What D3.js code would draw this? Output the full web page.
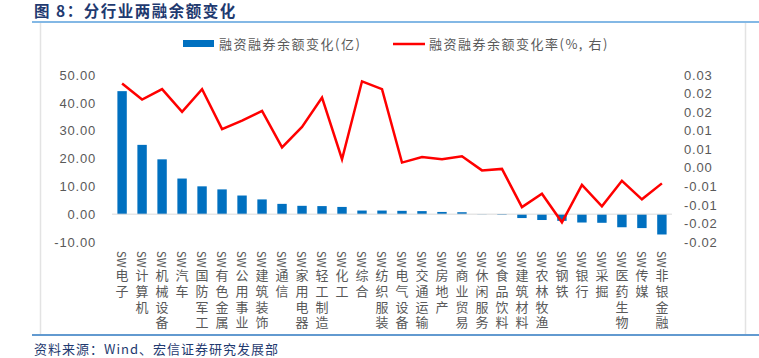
<!DOCTYPE html>
<html><head><meta charset="utf-8">
<script src="https://cdn.jsdelivr.net/npm/d3@7"></script>
<style>
body{margin:0;background:#fff;}
svg{display:block;font-family:"Noto Sans CJK SC","Noto Sans",sans-serif;}
</style></head>
<body><svg id="c" width="759" height="358"></svg>
<script>
const categories = ["SW电子","SW计算机","SW机械设备","SW汽车","SW国防军工","SW有色金属","SW公用事业","SW建筑装饰","SW通信","SW家用电器","SW轻工制造","SW化工","SW综合","SW纺织服装","SW电气设备","SW交通运输","SW房地产","SW商业贸易","SW休闲服务","SW食品饮料","SW建筑材料","SW农林牧渔","SW钢铁","SW银行","SW采掘","SW医药生物","SW传媒","SW非银金融"];
const balanceChange = [44.2,24.9,19.7,12.8,10.0,8.9,6.7,5.3,3.7,3.0,2.9,2.6,1.3,1.3,1.2,1.1,0.8,0.7,-0.1,-0.3,-1.4,-2.1,-2.4,-3.0,-3.1,-4.7,-5.0,-7.3];
const changeRate = [0.0227,0.0184,0.0212,0.0151,0.0212,0.0104,0.0127,0.0153,0.0055,0.0110,0.0189,0.0023,0.0233,0.0212,0.0014,0.0029,0.0023,0.0031,-0.0007,-0.0003,-0.0106,-0.0070,-0.0147,-0.0046,-0.0104,-0.0035,-0.0085,-0.0042];
const leftTicks = [50,40,30,20,10,0,-10];
const leftTickLabels = ["50.00","40.00","30.00","20.00","10.00","0.00","-10.00"];
const rightTicks = [0.025,0.02,0.015,0.01,0.005,0,-0.005,-0.01,-0.015,-0.02];
const rightTickLabels = ["0.03","0.02","0.02","0.01","0.01","0.00","-0.01","-0.01","-0.02","-0.02"];
const title = "图 8：分行业两融余额变化";
const source = "资料来源：Wind、宏信证券研究发展部";
const legendBar = "融资融券余额变化(亿)";
const legendLine = "融资融券余额变化率(%, 右)";

const svg = d3.select("#c");
const navy = "#1f3a70", grey = "#595959";

// title & frame
svg.append("text").attr("x",34).attr("y",17).attr("font-size",15.5).attr("font-weight","bold")
  .attr("fill",navy).attr("letter-spacing",1.5).text(title);
svg.append("line").attr("x1",32).attr("x2",759).attr("y1",22).attr("y2",22).attr("stroke","#5aa0dc").attr("stroke-width",1.5);
svg.append("line").attr("x1",32).attr("x2",759).attr("y1",335).attr("y2",335).attr("stroke","#2e78c0").attr("stroke-width",1.5);
svg.append("line").attr("x1",40.5).attr("x2",40.5).attr("y1",23).attr("y2",334).attr("stroke","#e3e3e3").attr("stroke-width",1.5);
svg.append("line").attr("x1",745.5).attr("x2",745.5).attr("y1",23).attr("y2",334).attr("stroke","#e3e3e3").attr("stroke-width",1.5);
svg.append("text").attr("x",34).attr("y",354).attr("font-size",13).attr("fill",navy).attr("letter-spacing",1).text(source);

// scales
const x = d3.scaleBand().domain(categories).range([112,672]).paddingInner(0.53).paddingOuter(0.27);
const yL = d3.scaleLinear().domain([-10,50]).range([242,75]);
const yR = d3.scaleLinear().domain([-0.02,0.025]).range([242,75]);

// axes
const axL = svg.append("g").attr("transform","translate(96,0)")
  .call(d3.axisLeft(yL).tickValues(leftTicks).tickSize(0).tickPadding(0).tickFormat((d,i)=>leftTickLabels[i]));
const axR = svg.append("g").attr("transform","translate(684,0)")
  .call(d3.axisRight(yR).tickValues(rightTicks).tickSize(0).tickPadding(0).tickFormat((d,i)=>rightTickLabels[i]));
[axL,axR].forEach(a=>{a.select(".domain").remove();
  a.selectAll("text").attr("font-size",13).attr("fill",grey).attr("letter-spacing",0.8)
   .attr("font-family","'Liberation Sans',Arial,sans-serif");});

// bars
svg.append("g").selectAll("rect").data(balanceChange).join("rect")
  .attr("x",(d,i)=>x(categories[i])).attr("width",x.bandwidth())
  .attr("y",d=>yL(Math.max(0,d))).attr("height",d=>Math.abs(yL(d)-yL(0)))
  .attr("fill","#0070c0");

// zero line
svg.append("line").attr("x1",112).attr("x2",672).attr("y1",yL(0)).attr("y2",yL(0))
  .attr("stroke","#d9d9d9").attr("stroke-width",1);

// line
const line = d3.line().x((d,i)=>x(categories[i])+x.bandwidth()/2).y(d=>yR(d));
svg.append("path").datum(changeRate).attr("d",line).attr("fill","none")
  .attr("stroke","#ff0000").attr("stroke-width",2.5).attr("stroke-linejoin","miter");

// x labels (vertical): "SW" prefix sideways, CJK upright
const xl = svg.append("g").selectAll("text").data(categories).join("text")
  .attr("x",d=>x(d)+x.bandwidth()/2).attr("y",251)
  .attr("fill",grey)
  .style("writing-mode","vertical-rl").style("text-orientation","mixed");
xl.append("tspan").attr("font-size",11.5).attr("letter-spacing",0).text(d=>d.slice(0,2));
xl.append("tspan").attr("font-size",13).attr("letter-spacing",2.6).attr("dy",1).text(d=>d.slice(2));

// legend
svg.append("rect").attr("x",183).attr("y",40).attr("width",31).attr("height",7).attr("fill","#0070c0");
svg.append("text").attr("x",219).attr("y",48.5).attr("font-size",13).attr("fill",grey).attr("letter-spacing",1.5).text(legendBar);
svg.append("line").attr("x1",393).attr("x2",425).attr("y1",44).attr("y2",44).attr("stroke","#ff0000").attr("stroke-width",2.5);
svg.append("text").attr("x",429).attr("y",48.5).attr("font-size",13).attr("fill",grey).attr("letter-spacing",1.5).text(legendLine);
</script></body></html>
